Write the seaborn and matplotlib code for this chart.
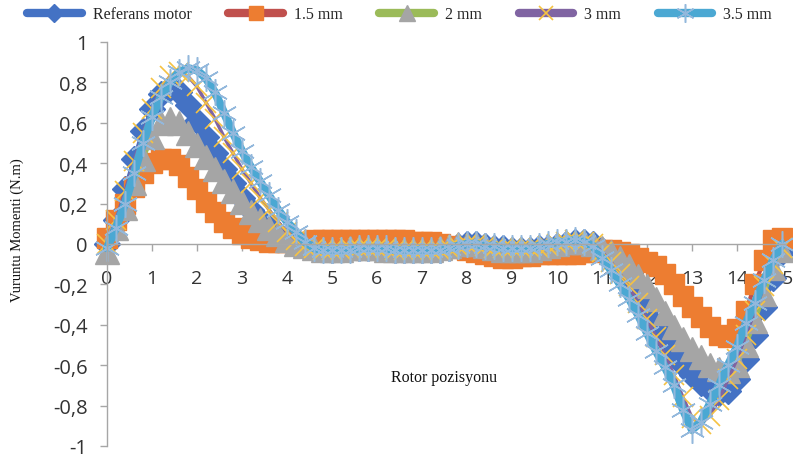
import numpy as np
import pandas as pd
import seaborn as sns
import matplotlib.pyplot as plt
from matplotlib.lines import Line2D

# rotor position grid (step 0.2)
pos = np.linspace(0, 15, 76)

ref_motor = [0.00, 0.12, 0.27, 0.42, 0.56, 0.67, 0.74, 0.77, 0.75, 0.69,
             0.61, 0.53, 0.45, 0.37, 0.30, 0.23, 0.17, 0.12, 0.08, 0.05,
             0.02, 0.00, -0.01, -0.02, -0.02, -0.03, -0.02, -0.02, -0.02, -0.02,
             -0.02, -0.02, -0.03, -0.03, -0.03, -0.03, -0.03, -0.03, -0.02, -0.01,
             0.00, 0.00, -0.01, -0.02, -0.02, -0.03, -0.03, -0.03, -0.02, -0.02,
             -0.01, 0.00, 0.01, 0.01, 0.00, -0.03, -0.07, -0.12, -0.18, -0.25,
             -0.32, -0.40, -0.47, -0.54, -0.60, -0.65, -0.69, -0.72, -0.74, -0.73,
             -0.67, -0.57, -0.45, -0.31, -0.17, -0.04]
mm_15 = [0.03, 0.12, 0.20, 0.28, 0.35, 0.40, 0.42, 0.42, 0.39, 0.33,
         0.27, 0.21, 0.16, 0.11, 0.08, 0.05, 0.03, 0.02, 0.01, 0.01,
         0.01, 0.01, 0.01, 0.02, 0.02, 0.02, 0.02, 0.02, 0.02, 0.02,
         0.02, 0.02, 0.02, 0.02, 0.01, 0.01, 0.01, 0.00, -0.01, -0.02,
         -0.03, -0.04, -0.05, -0.06, -0.07, -0.07, -0.06, -0.06, -0.05, -0.05,
         -0.05, -0.05, -0.05, -0.04, -0.04, -0.03, -0.03, -0.04, -0.05, -0.07,
         -0.09, -0.11, -0.15, -0.20, -0.26, -0.31, -0.36, -0.41, -0.45, -0.46,
         -0.42, -0.33, -0.20, -0.08, 0.02, 0.03]
mm_2 = [-0.04, 0.08, 0.18, 0.30, 0.42, 0.53, 0.60, 0.62, 0.60, 0.55,
        0.49, 0.43, 0.37, 0.31, 0.26, 0.21, 0.16, 0.12, 0.08, 0.05,
        0.02, 0.00, -0.01, -0.02, -0.03, -0.03, -0.03, -0.02, -0.02, -0.02,
        -0.02, -0.03, -0.03, -0.03, -0.03, -0.03, -0.03, -0.02, -0.01, 0.00,
        0.00, 0.00, -0.01, -0.02, -0.03, -0.03, -0.03, -0.03, -0.02, -0.01,
        0.00, 0.01, 0.01, 0.01, 0.00, -0.02, -0.04, -0.07, -0.11, -0.16,
        -0.21, -0.27, -0.34, -0.41, -0.47, -0.52, -0.56, -0.60, -0.62, -0.63,
        -0.60, -0.50, -0.38, -0.25, -0.12, -0.03]
mm_3 = [0.00, 0.12, 0.26, 0.41, 0.55, 0.67, 0.77, 0.83, 0.85, 0.83,
        0.78, 0.70, 0.62, 0.53, 0.45, 0.37, 0.30, 0.23, 0.17, 0.11,
        0.06, 0.02, -0.01, -0.02, -0.03, -0.03, -0.03, -0.02, -0.02, -0.02,
        -0.02, -0.02, -0.03, -0.03, -0.03, -0.03, -0.03, -0.03, -0.02, -0.01,
        0.00, 0.00, -0.01, -0.02, -0.02, -0.02, -0.02, -0.02, -0.02, -0.01,
        0.00, 0.01, 0.02, 0.01, 0.00, -0.04, -0.09, -0.15, -0.21, -0.29,
        -0.37, -0.46, -0.55, -0.65, -0.76, -0.86, -0.89, -0.85, -0.77, -0.67,
        -0.57, -0.45, -0.33, -0.21, -0.10, -0.02]
mm_35 = [-0.02, 0.08, 0.20, 0.35, 0.50, 0.63, 0.73, 0.80, 0.85, 0.87,
         0.86, 0.82, 0.75, 0.65, 0.55, 0.46, 0.38, 0.31, 0.24, 0.17,
         0.11, 0.06, 0.01, -0.02, -0.03, -0.03, -0.03, -0.03, -0.02, -0.02,
         -0.02, -0.02, -0.03, -0.03, -0.03, -0.03, -0.03, -0.03, -0.02, -0.01,
         0.00, 0.00, -0.01, -0.01, -0.02, -0.02, -0.02, -0.02, -0.01, 0.00,
         0.01, 0.01, 0.02, 0.01, -0.01, -0.07, -0.13, -0.20, -0.27, -0.35,
         -0.44, -0.53, -0.61, -0.70, -0.82, -0.92, -0.88, -0.79, -0.70, -0.60,
         -0.51, -0.39, -0.29, -0.18, -0.08, 0.00]

series_names = ['Referans motor', '1.5 mm', '2 mm', '3 mm', '3.5 mm']
yticks = [-1, -0.8, -0.6, -0.4, -0.2, 0, 0.2, 0.4, 0.6, 0.8, 1]
ytick_labels = ['-1', '-0,8', '-0,6', '-0,4', '-0,2', '0', '0,2', '0,4', '0,6', '0,8', '1']
xticks = list(range(16))

df = pd.DataFrame({'pos': pos, 'Referans motor': ref_motor, '1.5 mm': mm_15,
                   '2 mm': mm_2, '3 mm': mm_3, '3.5 mm': mm_35})
long = df.melt(id_vars='pos', var_name='series', value_name='moment')

# Excel-like styling: line colour, marker, marker colour, size, edge width
styles = {
    'Referans motor': dict(color='#4472C4', marker='D', mfc='#4472C4', mec='#4472C4', ms=13, mew=1, lw=3),
    '1.5 mm': dict(color='#C0504D', marker='s', mfc='#ED7D31', mec='#ED7D31', ms=15, mew=1, lw=3),
    '2 mm': dict(color='#9BBB59', marker='^', mfc='#A5A5A5', mec='#A5A5A5', ms=17, mew=1, lw=3),
    '3 mm': dict(color='#8064A2', marker='x', mfc='#FFC000', mec='#F5C242', ms=15, mew=1.2, lw=2.5),
    '3.5 mm': dict(color='#4BA8D3', marker=(6, 2, 0), mfc='#93B8DC', mec='#93B8DC', ms=19, mew=1.1, lw=6),
}

sns.set_theme(style="white")
fig = plt.figure(figsize=(7.93, 4.6), dpi=100)
ax = fig.add_axes([0.1349, 0.0283, 0.8569, 0.8783])

for name in series_names:
    s = styles[name]
    sub = long[long['series'] == name]
    sns.lineplot(data=sub, x='pos', y='moment', ax=ax, color=s['color'], lw=s['lw'],
                 marker=s['marker'], markersize=s['ms'], markerfacecolor=s['mfc'],
                 markeredgecolor=s['mec'], markeredgewidth=s['mew'],
                 legend=False, clip_on=False, estimator=None, sort=False)

ax.set_xlim(0, 15.1)
ax.set_ylim(-1, 1)
ax.spines['bottom'].set_position(('data', 0))
for side in ['top', 'right']:
    ax.spines[side].set_visible(False)
for side in ['left', 'bottom']:
    ax.spines[side].set_color('#A6A6A6')
    ax.spines[side].set_linewidth(1)
ax.set_xticks(xticks)
ax.set_xticklabels([str(t) for t in xticks])
ax.set_yticks(yticks)
ax.set_yticklabels(ytick_labels)
ax.tick_params(axis='x', direction='out', length=5, width=1, color='#A6A6A6', pad=13,
               labelsize=14, labelcolor='#333333', bottom=True)
ax.tick_params(axis='y', direction='out', length=5, width=1, color='#A6A6A6', pad=9,
               labelsize=14.5, labelcolor='#333333', left=True)
for lab in ax.get_xticklabels() + ax.get_yticklabels():
    lab.set_family('Open Sans')

ax.set_xlabel('Rotor pozisyonu', family='Liberation Serif', fontsize=11.5, color='#111111')
ax.xaxis.set_label_coords(0.496, 0.17)
ax.xaxis.label.set_va('center')
fig.text(0.022, 0.5, 'Vuruntu Momenti (N.m)', rotation=90, family='Liberation Serif',
         fontsize=10.5, color='#111111', ha='center', va='center')
ax.set_ylabel('')

handles = []
for name in series_names:
    s = styles[name]
    handles.append(Line2D([], [], color=s['color'], lw=6, solid_capstyle='round',
                          marker=s['marker'], markersize=s['ms'] * 0.7, markerfacecolor=s['mfc'],
                          markeredgecolor=s['mec'], markeredgewidth=s['mew']))
fig.legend(handles, series_names, loc='center', bbox_to_anchor=(0.504, 0.967), ncol=5,
           frameon=False, prop={'family': 'Liberation Serif', 'size': 11.5},
           handlelength=3.4, handletextpad=0.7, columnspacing=2.3, numpoints=1)

plt.savefig("out.png", dpi=100)
plt.close()
